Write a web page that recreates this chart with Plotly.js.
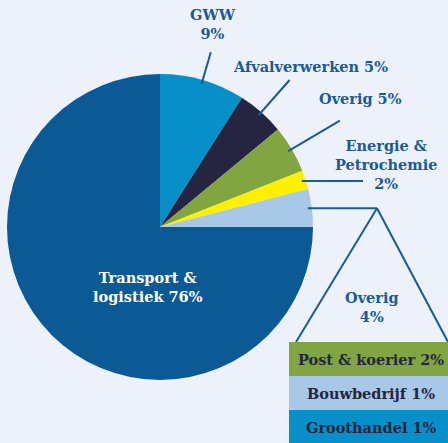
<!DOCTYPE html>
<html>
<head>
<meta charset="utf-8">
<script src="https://cdn.plot.ly/plotly-3.0.1.min.js"></script>
<style>html,body{margin:0;padding:0;background:#edf2fa;}#chart{width:448px;height:443px;}</style>
</head>
<body>
<div id="chart"></div>
<script>
// ---- data ----
const categories = ['GWW', 'Afvalverwerken', 'Overig', 'Energie & Petrochemie', 'Overig', 'Transport & logistiek'];
// slice sizes
const shares = [9, 5, 5, 2, 4, 75];
// printed percentages
const shareLabels = ['9%', '5%', '5%', '2%', '4%', '76%'];
const sliceColors = ['#068fc8', '#262541', '#80a541', '#fff000', '#a8c8e7', '#0b5995'];

const subCategories = ['Post & koerier', 'Bouwbedrijf', 'Groothandel'];
const subShareLabels = ['2%', '1%', '1%'];
const subColors = ['#80a541', '#a8c8e7', '#068fc8'];

// ---- geometry (pixels) ----
const W = 448, H = 443, CX = 160, CY = 227, R = 153;
const px = x => x / W;
const py = y => 1 - y / H;
const BG = '#edf2fa';
const LINE = '#1a5a96';
const TXT = '#1a5a96';
const NAVY = '#262541';
const FONT = 'DejaVu Serif';
const FS = 14.5;

const total = shares.reduce((a, b) => a + b, 0);
// mid angles (degrees clockwise from 12 o'clock)
const mids = [];
let acc = 0;
shares.forEach(v => { mids.push((acc + v / 2) / total * 360); acc += v; });
const pt = (deg, r) => [CX + r * Math.sin(deg * Math.PI / 180), CY - r * Math.cos(deg * Math.PI / 180)];

const shapes = [];
function line(x0, y0, x1, y1) {
  shapes.push({type: 'line', xref: 'paper', yref: 'paper', x0: px(x0), y0: py(y0), x1: px(x1), y1: py(y1),
    line: {color: LINE, width: 2}});
}
// radial leaders
const leaderEnd = [182, 196, 209];
[0, 1, 2].forEach(i => {
  const a = pt(mids[i], 149), b = pt(mids[i], leaderEnd[i]);
  line(a[0], a[1], b[0], b[1]);
});
// horizontal leaders
{
  const a = pt(mids[3], 149); line(a[0], a[1], 363, a[1]);
  const b = pt(mids[4], 149); line(b[0], b[1], 377, b[1]);
  // triangle
  line(377, b[1], 296, 342);
  line(377, b[1], 448, 342);
}
// sub boxes
const boxTop = 342, boxH = 34;
subCategories.forEach((c, i) => {
  shapes.push({type: 'rect', xref: 'paper', yref: 'paper', layer: 'above',
    x0: px(289), x1: px(452), y0: py(boxTop + i * boxH), y1: py(boxTop + (i + 1) * boxH),
    fillcolor: subColors[i], line: {width: 0}});
});

const annotations = [];
function ann(text, x, y, color, size) {
  annotations.push({text, xref: 'paper', yref: 'paper', x: px(x), y: py(y), xanchor: 'center', yanchor: 'middle',
    showarrow: false, font: {family: FONT, size: size || FS, color: color || TXT, weight: 'bold'}});
}
ann(categories[0] + '<br>' + shareLabels[0], 213, 24);
ann(categories[1] + ' ' + shareLabels[1], 310, 67);
ann(categories[2] + ' ' + shareLabels[2], 360, 98);
ann('Energie &<br>Petrochemie<br>' + shareLabels[3], 386, 164);
ann(categories[4] + '<br>' + shareLabels[4], 372, 307);
ann('Transport &<br>logistiek ' + shareLabels[5], 148, 287, '#ffffff');
subCategories.forEach((c, i) => {
  ann(c + ' ' + subShareLabels[i], 371, boxTop + i * boxH + boxH / 2, NAVY);
});

const data = [{
  type: 'pie',
  labels: categories.map((c, i) => c + ' ' + i),
  values: shares,
  sort: false,
  direction: 'clockwise',
  rotation: 0,
  textinfo: 'none',
  hoverinfo: 'none',
  marker: {colors: sliceColors, line: {width: 0}},
  domain: {x: [px(CX - R), px(CX + R)], y: [py(CY + R), py(CY - R)]},
  showlegend: false
}];

const layout = {
  width: W, height: H,
  margin: {l: 0, r: 0, t: 0, b: 0},
  paper_bgcolor: BG, plot_bgcolor: BG,
  showlegend: false,
  shapes, annotations
};
Plotly.newPlot('chart', data, layout, {staticPlot: true, displayModeBar: false});
</script>
</body>
</html>
